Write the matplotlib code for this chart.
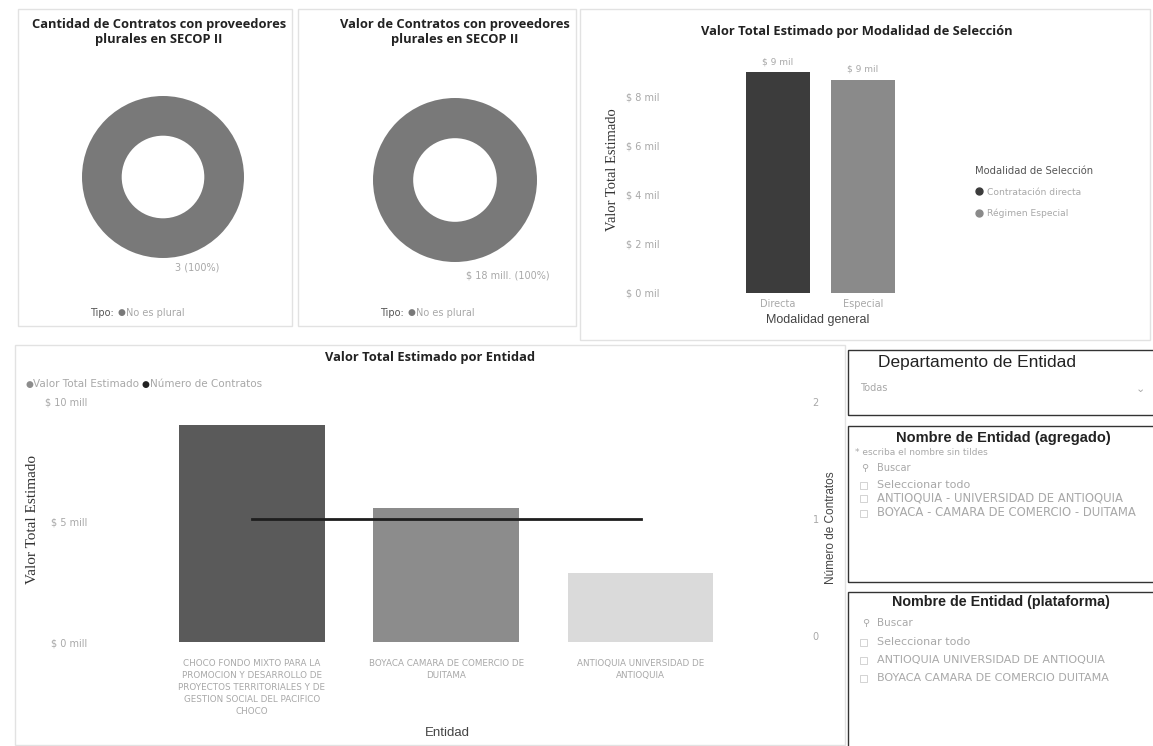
import matplotlib
matplotlib.use("Agg")
import matplotlib.pyplot as plt
from matplotlib.patches import Rectangle
from matplotlib.lines import Line2D

# ---------------- data ----------------
tipo_labels = ["No es plural"]
cantidad_values = [3]
valor_values = [18]          # $ mill.

mod_categories = ["Directa", "Especial"]
mod_legend = ["Contratación directa", "Régimen Especial"]
mod_values = [9.0, 8.7]      # $ mil
mod_ticks = [0, 2, 4, 6, 8]

ent_labels = [
    "CHOCO FONDO MIXTO PARA LA\nPROMOCION Y DESARROLLO DE\nPROYECTOS TERRITORIALES Y DE\nGESTION SOCIAL DEL PACIFICO\nCHOCO",
    "BOYACA CAMARA DE COMERCIO DE\nDUITAMA",
    "ANTIOQUIA UNIVERSIDAD DE\nANTIOQUIA",
]
ent_values = [9.0, 5.55, 2.85]   # $ mill
ent_contracts = [1, 1, 1]
ent_ticks = [0, 5, 10]
cnt_ticks = [0, 1, 2]

slicer_agregado = ["ANTIOQUIA - UNIVERSIDAD DE ANTIOQUIA", "BOYACA - CAMARA DE COMERCIO - DUITAMA"]
slicer_plataforma = ["ANTIOQUIA UNIVERSIDAD DE ANTIOQUIA", "BOYACA CAMARA DE COMERCIO DUITAMA"]

# ---------------- figure ----------------
W, H = 1153, 746
fig = plt.figure(figsize=(W / 100, H / 100), dpi=100)
fig.patch.set_facecolor("white")

TITLE_FONT = dict(family=["Open Sans", "DejaVu Sans"], fontweight="bold", color="#222222", fontsize=9.3)
SMALL_GRAY = "#a8a8a8"


def ax_px(x0, y0, x1, y1, **kw):
    return fig.add_axes([x0 / W, 1 - y1 / H, (x1 - x0) / W, (y1 - y0) / H], **kw)


def ftext(x, y, s, **kw):
    return fig.text(x / W, 1 - y / H, s, **kw)


def frect(x0, y0, x1, y1, **kw):
    r = Rectangle((x0 / W, 1 - y1 / H), (x1 - x0) / W, (y1 - y0) / H,
                  transform=fig.transFigure, fill=False, **kw)
    fig.add_artist(r)


# panel borders (faint)
for (x0, y0, x1, y1) in [(18, 9, 292, 326), (298, 9, 576, 326), (580, 9, 1150, 340), (15, 345, 845, 745)]:
    frect(x0, y0, x1, y1, edgecolor="#e2e2e2", linewidth=1.0)

# ---------------- donuts ----------------
def donut(cx, cy, r, values, label_xy, label_txt):
    ax = ax_px(cx - r, cy - r, cx + r, cy + r)
    ax.pie(values, radius=1, colors=["#797979"], startangle=90, counterclock=False,
           wedgeprops=dict(width=0.49, edgecolor="none"))
    ax.set_xlim(-1, 1)
    ax.set_ylim(-1, 1)
    ax.set_aspect("equal")
    ax.axis("off")
    ftext(label_xy[0], label_xy[1], label_txt, fontsize=7, color=SMALL_GRAY, ha="center", va="center")


ftext(159, 32, "Cantidad de Contratos con proveedores\nplurales en SECOP II", ha="center", va="center",
      linespacing=1.25, **TITLE_FONT)
tot1 = sum(cantidad_values)
donut(163, 177, 81, cantidad_values, (197, 268), f"{cantidad_values[0]} ({100 * cantidad_values[0] / tot1:.0f}%)")

ftext(455, 32, "Valor de Contratos con proveedores\nplurales en SECOP II", ha="center", va="center",
      linespacing=1.25, **TITLE_FONT)
tot2 = sum(valor_values)
donut(455, 180, 82, valor_values, (508, 275), f"$ {valor_values[0]} mill. ({100 * valor_values[0] / tot2:.0f}%)")

for tx, ty in [(90, 313), (380, 313)]:
    ftext(tx, ty, "Tipo:", fontsize=7, color="#555555", ha="left", va="center")
    ftext(tx + 27, ty, "●", fontsize=6.5, color="#797979", ha="left", va="center")
    ftext(tx + 36, ty, tipo_labels[0], fontsize=7, color=SMALL_GRAY, ha="left", va="center")

# ---------------- modalidad bar chart ----------------
ftext(857, 32, "Valor Total Estimado por Modalidad de Selección", ha="center", va="center", **TITLE_FONT)
axm = ax_px(675, 60, 960, 293)
mod_colors = ["#3c3c3c", "#8a8a8a"]
xm = list(range(len(mod_categories)))
bars = axm.bar(xm, mod_values, width=0.75, color=mod_colors)
for b, v in zip(bars, mod_values):
    axm.text(b.get_x() + b.get_width() / 2, v + 0.25, f"$ {v:.0f} mil", ha="center", va="bottom",
             fontsize=6.5, color=SMALL_GRAY)
axm.set_xlim(-1.21, 2.14)
axm.set_ylim(0, 9.5)
axm.set_yticks(mod_ticks)
axm.set_yticklabels([f"$ {t} mil" for t in mod_ticks])
axm.set_xticks(xm)
axm.set_xticklabels(mod_categories)
axm.tick_params(axis="both", length=0, labelsize=7, labelcolor=SMALL_GRAY)
axm.tick_params(axis="y", pad=11)
axm.tick_params(axis="x", pad=4)
for s in axm.spines.values():
    s.set_visible(False)
axm.set_xlabel("Modalidad general", fontsize=9, color="#444444", labelpad=4,
               family=["Liberation Sans", "DejaVu Sans"])
ftext(612, 170, "Valor Total Estimado", rotation=90, ha="center", va="center", fontsize=10.5,
      color="#333333", family=["Liberation Serif", "DejaVu Serif"])
handles = [Line2D([0], [0], marker="o", linestyle="none", markersize=5, color=c) for c in mod_colors]
leg = axm.legend(handles, mod_legend, title="Modalidad de Selección", loc="upper left",
                 bbox_to_anchor=(971 / W, 1 - 162 / H), bbox_transform=fig.transFigure, frameon=False,
                 fontsize=6.6, title_fontsize=7.2, handletextpad=0.3, borderaxespad=0, labelspacing=1.3,
                 alignment="left", handlelength=1.0)
for t in leg.get_texts():
    t.set_color(SMALL_GRAY)
leg.get_title().set_color("#555555")

# ---------------- entidad combo chart ----------------
ftext(430, 358, "Valor Total Estimado por Entidad", ha="center", va="center", **TITLE_FONT)
axe = ax_px(100, 390, 800, 642)
ent_colors = ["#5a5a5a", "#8c8c8c", "#dadada"]
xe = list(range(len(ent_labels)))
axe.bar(xe, ent_values, width=0.75, color=ent_colors)
axe.set_xlim(-0.78, 2.82)
axe.set_ylim(0, 10.46)
axe.set_yticks(ent_ticks)
axe.set_yticklabels([f"$ {t} mill" for t in ent_ticks])
axe.set_xticks(xe)
axe.set_xticklabels(ent_labels, linespacing=1.45)
axe.tick_params(axis="both", length=0, labelsize=7, labelcolor=SMALL_GRAY)
axe.tick_params(axis="x", labelsize=6.3, pad=12)
axe.tick_params(axis="y", pad=9)
for s in axe.spines.values():
    s.set_visible(False)
axt = axe.twinx()
axt.plot(xe, ent_contracts, color="#1e1e1e", linewidth=2)
axt.set_ylim(-0.05, 2.1)
axt.set_yticks(cnt_ticks)
axt.tick_params(axis="y", length=0, labelsize=7, labelcolor=SMALL_GRAY, pad=9)
for s in axt.spines.values():
    s.set_visible(False)
ftext(447, 733, "Entidad", ha="center", va="center", fontsize=9.5, color="#444444",
      family=["Liberation Sans", "DejaVu Sans"])
ftext(33, 520, "Valor Total Estimado", rotation=90, ha="center", va="center", fontsize=11,
      color="#333333", family=["Liberation Serif", "DejaVu Serif"])
ftext(831, 528, "Número de Contratos", rotation=90, ha="center", va="center", fontsize=8.5,
      color="#444444", family=["Liberation Sans", "DejaVu Sans"])
# legend top-left
ftext(25, 384, "●", fontsize=6.5, color="#8c8c8c", ha="left", va="center")
ftext(33, 384, "Valor Total Estimado", fontsize=7.5, color=SMALL_GRAY, ha="left", va="center")
ftext(142, 384, "●", fontsize=6.5, color="#222222", ha="left", va="center")
ftext(150, 384, "Número de Contratos", fontsize=7.5, color=SMALL_GRAY, ha="left", va="center")

# ---------------- slicers ----------------
SL_FONT = ["Liberation Sans", "DejaVu Sans"]
frect(848, 350, 1165, 415, edgecolor="#333333", linewidth=1.0)
ftext(977, 362, "Departamento de Entidad", ha="center", va="center", fontsize=12.5, color="#222222",
      family=SL_FONT)
ftext(860, 388, "Todas", fontsize=7, color=SMALL_GRAY, ha="left", va="center")
ftext(1140, 389, "⌄", fontsize=8, color=SMALL_GRAY, ha="center", va="center", family=["DejaVu Sans"])

frect(848, 426, 1165, 582, edgecolor="#333333", linewidth=1.0)
ftext(1003, 438, "Nombre de Entidad (agregado)", ha="center", va="center", fontsize=10.5, color="#222222",
      fontweight="bold", family=SL_FONT)
ftext(855, 453, "* escriba el nombre sin tildes", fontsize=6.5, color=SMALL_GRAY, ha="left", va="center")
ftext(861, 468, "⚲", fontsize=7, color=SMALL_GRAY, ha="left", va="center", family=["DejaVu Sans"])
ftext(877, 468, "Buscar", fontsize=7, color=SMALL_GRAY, ha="left", va="center")
for i, (s, y) in enumerate(zip(["Seleccionar todo"] + slicer_agregado, [485, 498, 513])):
    frect(860, y - 3, 867, y + 4, edgecolor="#cccccc", linewidth=0.6)
    ftext(877, y, s, fontsize=8.4 if i else 8.0, color=SMALL_GRAY, ha="left", va="center")

frect(848, 592, 1165, 760, edgecolor="#333333", linewidth=1.0)
ftext(1001, 602, "Nombre de Entidad (plataforma)", ha="center", va="center", fontsize=10.3, color="#222222",
      fontweight="bold", family=SL_FONT)
ftext(862, 623, "⚲", fontsize=7, color=SMALL_GRAY, ha="left", va="center", family=["DejaVu Sans"])
ftext(877, 623, "Buscar", fontsize=7.5, color=SMALL_GRAY, ha="left", va="center")
for i, (s, y) in enumerate(zip(["Seleccionar todo"] + slicer_plataforma, [642, 660, 678])):
    frect(860, y - 3, 867, y + 4, edgecolor="#cccccc", linewidth=0.6)
    ftext(877, y, s, fontsize=8, color=SMALL_GRAY, ha="left", va="center")

fig.savefig("out.png", dpi=100, facecolor="white")
